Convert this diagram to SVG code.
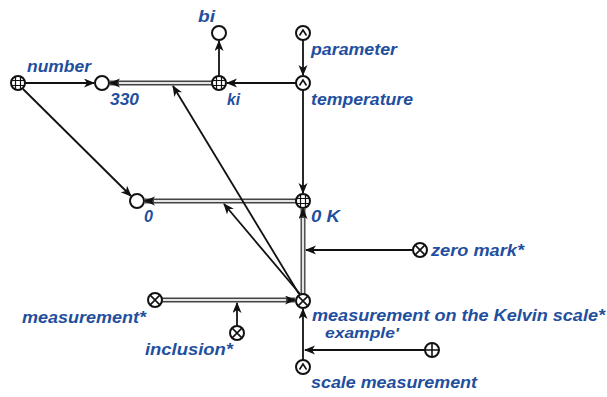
<svg xmlns="http://www.w3.org/2000/svg" width="607" height="397" viewBox="0 0 607 397">
<style>
.n{fill:#fff;stroke:#111;stroke-width:2}
.g{stroke:#111;stroke-width:1.2;fill:none}
.s{stroke:#111;stroke-width:1.6;fill:none}
.l{stroke:#111;stroke-width:1.8;fill:none}
.dO{stroke:#444;stroke-width:5;fill:none}
.dI{stroke:#e4e4e4;stroke-width:2.2;fill:none}
text{font-family:"Liberation Sans",Arial,sans-serif;font-weight:bold;font-style:italic;font-size:17px;fill:#1f4f9e}
</style>
<defs>
<marker id="a" markerUnits="userSpaceOnUse" markerWidth="12" markerHeight="10" refX="10" refY="4.5" orient="auto"><path d="M0,0 L11,4.5 L0,9 L3,4.5z" fill="#111"/></marker>
<g id="grid"><circle class="n" r="7"/><path class="g" d="M-2.5,-6.5V6.5M2.5,-6.5V6.5M-6.5,-2.5H6.5M-6.5,2.5H6.5"/></g>
<g id="caret"><circle class="n" r="7"/><path class="s" d="M-3.5,2.5L0,-3L3.5,2.5"/></g>
<g id="xc"><circle class="n" r="7"/><path class="s" d="M-4.6,-4.6L4.6,4.6M-4.6,4.6L4.6,-4.6"/></g>
<g id="pc"><circle class="n" r="7"/><path class="s" d="M-7,0H7M0,-7V7"/></g>
<circle id="pl" class="n" r="7"/>
</defs>
<g id="connectors">
<path class="dO" d="M212,83 L110,83" marker-end="url(#a)"/><path class="dI" d="M212,83 L119,83"/>
<path class="dO" d="M296,201 L145,201" marker-end="url(#a)"/><path class="dI" d="M296,201 L154,201"/>
<path class="dO" d="M303,294 L303,209" marker-end="url(#a)"/><path class="dI" d="M303,294 L303,218"/>
<path class="dO" d="M162,300 L295,300" marker-end="url(#a)"/><path class="dI" d="M162,300 L286,300"/>
<path class="l" d="M25,83 L94,83" marker-end="url(#a)"/>
<path class="l" d="M296,83 L227,83" marker-end="url(#a)"/>
<path class="l" d="M219,76 L219,41" marker-end="url(#a)"/>
<path class="l" d="M303,40 L303,75" marker-end="url(#a)"/>
<path class="l" d="M303,90 L303,193" marker-end="url(#a)"/>
<path class="l" d="M23,89 L131,196" marker-end="url(#a)"/>
<path class="l" d="M413,250 L306,250" marker-end="url(#a)"/>
<path class="l" d="M237,326 L237,303" marker-end="url(#a)"/>
<path class="l" d="M303,360 L303,309" marker-end="url(#a)"/>
<path class="l" d="M425,350 L305,350" marker-end="url(#a)"/>
<path class="l" d="M299,294 L173,86" marker-end="url(#a)"/>
<path class="l" d="M300,294 L224,204" marker-end="url(#a)"/>
</g>
<g id="number"><use href="#grid" x="18" y="83"/><text x="27" y="72" textLength="64" lengthAdjust="spacingAndGlyphs">number</text></g>
<g id="n330"><use href="#pl" x="102" y="83"/><text x="110" y="105" textLength="29" lengthAdjust="spacingAndGlyphs">330</text></g>
<g id="ki"><use href="#grid" x="219" y="83"/><text x="227" y="105" textLength="13" lengthAdjust="spacingAndGlyphs">ki</text></g>
<g id="bi"><use href="#pl" x="219" y="33"/><text x="198" y="22" textLength="17" lengthAdjust="spacingAndGlyphs">bi</text></g>
<g id="parameter"><use href="#caret" x="303" y="33"/><text x="311" y="55" textLength="86" lengthAdjust="spacingAndGlyphs">parameter</text></g>
<g id="temperature"><use href="#caret" x="303" y="83"/><text x="311" y="105" textLength="102" lengthAdjust="spacingAndGlyphs">temperature</text></g>
<g id="n0"><use href="#pl" x="137" y="201"/><text x="144" y="222" textLength="9" lengthAdjust="spacingAndGlyphs">0</text></g>
<g id="n0K"><use href="#grid" x="303" y="201"/><text x="311" y="222" textLength="29" lengthAdjust="spacingAndGlyphs">0 K</text></g>
<g id="zeromark"><use href="#xc" x="420" y="250"/><text x="431" y="256" textLength="93" lengthAdjust="spacingAndGlyphs">zero mark*</text></g>
<g id="measurement"><use href="#xc" x="155" y="300"/><text x="22" y="323" textLength="124" lengthAdjust="spacingAndGlyphs">measurement*</text></g>
<g id="inclusion"><use href="#xc" x="237" y="333"/><text x="145" y="355" textLength="88" lengthAdjust="spacingAndGlyphs">inclusion*</text></g>
<g id="kelvin"><use href="#xc" x="303" y="301"/><text x="312" y="321" textLength="293" lengthAdjust="spacingAndGlyphs">measurement on the Kelvin scale*</text></g>
<g id="example"><use href="#pc" x="432" y="350"/><text x="325" y="338" font-size="15" textLength="74" lengthAdjust="spacingAndGlyphs" style="font-size:15px">example'</text></g>
<g id="scale"><use href="#caret" x="303" y="367"/><text x="311" y="388" textLength="166" lengthAdjust="spacingAndGlyphs">scale measurement</text></g>
</svg>
